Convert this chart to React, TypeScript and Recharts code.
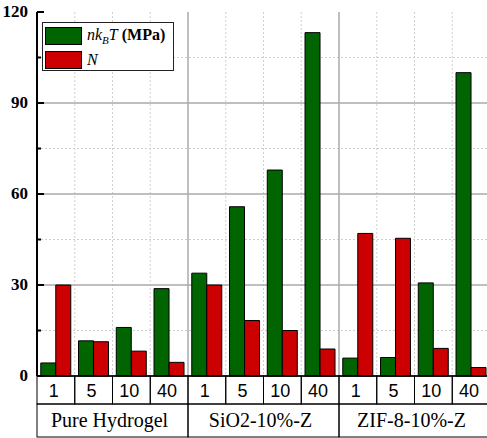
import React from 'react';
import { BarChart, Bar, XAxis, YAxis, CartesianGrid, Legend } from 'recharts';

// categories
const groups = ['Pure Hydrogel', 'SiO2-10%-Z', 'ZIF-8-10%-Z'];
const doses = ['1', '5', '10', '40'];

// series values, in group order (4 doses per group)
const modulus = [4.3, 11.6, 16, 28.8, 33.9, 55.8, 67.9, 113.2, 5.9, 6.1, 30.7, 100];
const crosslinks = [30, 11.3, 8.2, 4.5, 30, 18.3, 15, 8.9, 47, 45.4, 9.1, 2.8];
const seriesOrder = ['nkT', 'N'];

// y ticks
const yMax = 120;
const majorTicks = [0, 30, 60, 90, 120];
const minorTicks = [15, 45, 75, 105];
const allTicks = [...majorTicks, ...minorTicks].sort((a, b) => a - b);

const data = modulus.map((v, i) => ({
  key: `${groups[Math.floor(i / doses.length)]}|${doses[i % doses.length]}`,
  group: groups[Math.floor(i / doses.length)],
  nkT: v,
  N: crosslinks[i],
}));

const GREEN = '#006400';
const RED = '#cc0000';
const SERIF = '"Liberation Serif", "Times New Roman", serif';
const SANS = '"Liberation Sans", Arial, sans-serif';

const WIDTH = 492;
const HEIGHT = 438;
const MARGIN = { top: 12, right: 2, left: 0, bottom: 1 };
const Y_AXIS_W = 37;
const DOSE_ROW = 28;
const GROUP_ROW = 33;
const BAND = (WIDTH - MARGIN.left - MARGIN.right - Y_AXIS_W) / data.length;

const DoseTick = (props: any) => {
  const { x, y, payload } = props;
  const half = payload?.offset || BAND / 2;
  const label = String(payload.value).split('|')[1];
  return (
    <g>
      <rect x={x - half} y={y} width={half * 2} height={DOSE_ROW} fill="none" stroke="#000" strokeWidth={1} />
      <text x={x - 2} y={y + 21} textAnchor="middle" fontFamily={SANS} fontSize={18} fill="#000">
        {label}
      </text>
    </g>
  );
};

const GroupTick = (props: any) => {
  const { x, y, payload } = props;
  const half = payload?.offset || (BAND * doses.length) / 2;
  return (
    <g>
      <rect x={x - half} y={y} width={half * 2} height={GROUP_ROW} fill="none" stroke="#000" strokeWidth={1} />
      <text x={x - 3} y={y + 23} textAnchor="middle" fontFamily={SERIF} fontSize={20} fill="#000">
        {payload.value}
      </text>
    </g>
  );
};

const TopTick = (props: any) => {
  const { x, y, payload, index } = props;
  const half = payload?.offset || BAND / 2;
  if (index === data.length - 1) return null;
  return <line x1={x + half} x2={x + half} y1={y} y2={y + 5} stroke="#000" strokeWidth={1.5} />;
};

const LeftTick = (props: any) => {
  const { x, y, payload } = props;
  const major = majorTicks.includes(payload.value);
  return (
    <g>
      <line x1={x} x2={x + (major ? 7 : 4)} y1={y} y2={y} stroke="#000" strokeWidth={2} />
      {major && (
        <text x={x - 9} y={y + 5} textAnchor="end" fontFamily={SERIF} fontWeight="bold" fontSize={17} fill="#000">
          {payload.value}
        </text>
      )}
    </g>
  );
};

const RightTick = (props: any) => {
  const { x, y, payload } = props;
  const major = majorTicks.includes(payload.value);
  return <line x1={x} x2={x - (major ? 7 : 4)} y1={y} y2={y} stroke="#000" strokeWidth={2} />;
};

const yOf = (offset: any, v: number) => offset.top + offset.height * (1 - v / yMax);
const xBoundaries = (offset: any, keep: (i: number) => boolean) =>
  data.map((_, i) => i).filter((i) => i > 0 && keep(i)).map((i) => offset.left + (offset.width / data.length) * i);

const LegendBox = ({ payload }: any) => {
  const items = [...(payload || [])].sort(
    (a: any, b: any) => seriesOrder.indexOf(a.dataKey) - seriesOrder.indexOf(b.dataKey)
  );
  const labelFor = (key: string) =>
    key === 'nkT' ? (
      <span>
        <i>nk</i>
        <i style={{ fontSize: 11, verticalAlign: -4 }}>B</i>
        <i>T</i> <b>(MPa)</b>
      </span>
    ) : (
      <i>N</i>
    );
  return (
    <div
      style={{
        boxSizing: 'border-box',
        width: 132,
        height: 49,
        border: '1.5px solid #222',
        background: '#fff',
        fontFamily: SERIF,
        fontSize: 16,
        color: '#000',
        paddingTop: 2,
      }}
    >
      {items.map((it: any) => (
        <div key={it.dataKey} style={{ display: 'flex', alignItems: 'center', height: 22, marginBottom: 2 }}>
          <div
            style={{
              width: 37,
              height: 18,
              marginLeft: 2,
              marginRight: 5,
              background: it.color,
              border: '1px solid #000',
              boxSizing: 'border-box',
            }}
          />
          {labelFor(it.dataKey)}
        </div>
      ))}
    </div>
  );
};

export default function App() {
  return (
    <div style={{ position: 'absolute', left: 0, top: 0, width: 487, height: 438, overflow: 'hidden', background: '#fff' }}>
      <BarChart width={WIDTH} height={HEIGHT} data={data} margin={MARGIN} barCategoryGap="10%" barGap={0}>
        <CartesianGrid
          xAxisId="dose"
          yAxisId="left"
          stroke="#cfcfcf"
          strokeDasharray="2 2"
          horizontalCoordinatesGenerator={({ offset }: any) => minorTicks.map((v) => yOf(offset, v))}
          verticalCoordinatesGenerator={({ offset }: any) => xBoundaries(offset, (i) => i % doses.length !== 0)}
        />
        <CartesianGrid
          xAxisId="dose"
          yAxisId="left"
          stroke="#aaaaaa"
          strokeWidth={1.5}
          horizontalCoordinatesGenerator={({ offset }: any) => [30, 60, 90].map((v) => yOf(offset, v))}
          verticalCoordinatesGenerator={({ offset }: any) => xBoundaries(offset, (i) => i % doses.length === 0)}
        />
        <XAxis
          xAxisId="dose"
          dataKey="key"
          height={DOSE_ROW}
          interval={0}
          tickSize={0}
          tickMargin={0}
          tickLine={false}
          axisLine={{ stroke: '#000', strokeWidth: 1.5 }}
          tick={<DoseTick />}
        />
        <XAxis
          xAxisId="group"
          dataKey="group"
          allowDuplicatedCategory={false}
          height={GROUP_ROW}
          interval={0}
          tickSize={0}
          tickMargin={0}
          tickLine={false}
          axisLine={false}
          tick={<GroupTick />}
        />
        <XAxis
          xAxisId="top"
          orientation="top"
          dataKey="key"
          height={0}
          interval={0}
          tickSize={0}
          tickMargin={0}
          tickLine={false}
          axisLine={{ stroke: '#000', strokeWidth: 2 }}
          tick={<TopTick />}
        />
        <YAxis
          yAxisId="left"
          width={Y_AXIS_W}
          domain={[0, yMax]}
          ticks={allTicks}
          interval={0}
          tickSize={0}
          tickMargin={0}
          tickLine={false}
          axisLine={{ stroke: '#000', strokeWidth: 2 }}
          tick={<LeftTick />}
        />
        <YAxis
          yAxisId="right"
          orientation="right"
          width={0}
          domain={[0, yMax]}
          ticks={allTicks}
          interval={0}
          tickSize={0}
          tickMargin={0}
          tickLine={false}
          axisLine={{ stroke: '#000', strokeWidth: 2 }}
          tick={<RightTick />}
        />
        <Legend
          layout="vertical"
          align="center"
          verticalAlign="middle"
          content={<LegendBox />}
          wrapperStyle={{ left: 42, top: 22, width: 132, height: 49 }}
        />
        <Bar xAxisId="dose" yAxisId="left" dataKey="nkT" name="nkBT (MPa)" fill={GREEN} stroke="#000" strokeWidth={1} isAnimationActive={false} />
        <Bar xAxisId="dose" yAxisId="left" dataKey="N" name="N" fill={RED} stroke="#000" strokeWidth={1} isAnimationActive={false} />
      </BarChart>
    </div>
  );
}
